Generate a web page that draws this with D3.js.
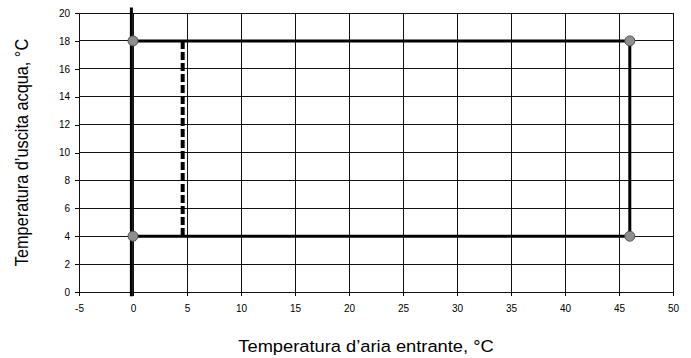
<!DOCTYPE html>
<html>
<head>
<meta charset="utf-8">
<script src="https://cdn.jsdelivr.net/npm/d3@7"></script>
<style>
  html, body { margin: 0; padding: 0; background: #fff; }
  svg { display: block; font-family: "Liberation Sans", Arial, sans-serif; }
</style>
</head>
<body>
<svg id="chart" width="691" height="358"></svg>
<script>
// Operating envelope: inlet air temperature vs. outlet water temperature
const xTicks = [-5, 0, 5, 10, 15, 20, 25, 30, 35, 40, 45, 50];
const yTicks = [0, 2, 4, 6, 8, 10, 12, 14, 16, 18, 20];

// Envelope corner points (air °C, water °C)
const envelopeAir = [0, 46, 46, 0];
const envelopeWater = [18, 18, 4, 4];

// Dashed limit line
const dashedAir = [4.6, 4.6];
const dashedWater = [18, 3.9];

// Heavy vertical reference line near 0 °C
const refAir = [-0.15, -0.15];
const refWater = [20.4, -0.3];

const xTitle = "Temperatura d\u2019aria entrante, \u00B0C";
const yTitle = "Temperatura d\u2019uscita acqua, \u00B0C";

const W = 691, H = 358;
const margin = { left: 79, right: 18, top: 13, bottom: 66 };
const squash = 0.89; // text is slightly condensed vertically
const svg = d3.select("#chart");

const x = d3.scaleLinear().domain([-5, 50]).range([margin.left, W - margin.right]);
const y = d3.scaleLinear().domain([0, 20]).range([H - margin.bottom, margin.top]);

// Gridlines
const grid = svg.append("g").attr("stroke", "#111").attr("stroke-width", 1)
  .attr("shape-rendering", "crispEdges");
grid.selectAll("line.h").data(yTicks).join("line")
  .attr("x1", x(-5)).attr("x2", x(50))
  .attr("y1", d => y(d)).attr("y2", d => y(d));
grid.selectAll("line.v").data(xTicks).join("line")
  .attr("y1", y(0)).attr("y2", y(20))
  .attr("x1", d => x(d)).attr("x2", d => x(d));

// Axes
const fmt = d => String(d);
const xAxis = d3.axisBottom(x).tickValues(xTicks).tickFormat(fmt).tickSize(4).tickSizeOuter(0);
const yAxis = d3.axisLeft(y).tickValues(yTicks).tickFormat(fmt).tickSize(4).tickSizeOuter(0);
const gx = svg.append("g").attr("transform", `translate(0,${y(0)})`).call(xAxis);
const gy = svg.append("g").attr("transform", `translate(${x(-5)},0)`).call(yAxis);
[gx, gy].forEach(g => {
  g.select(".domain").remove();
  g.selectAll("line").attr("stroke", "#000").attr("shape-rendering", "crispEdges");
  g.selectAll("text").attr("font-size", "10px").attr("fill", "#000")
    .attr("font-family", "Liberation Sans, Arial, sans-serif");
});
gx.selectAll("text").attr("dy", "1.25em");
gy.selectAll("text").attr("dx", "-2");

const line = d3.line().x(d => x(d[0])).y(d => y(d[1]));

// Reference vertical line
svg.append("path")
  .datum(d3.zip(refAir, refWater))
  .attr("d", line).attr("fill", "none")
  .attr("stroke", "#000").attr("stroke-width", 3);

// Dashed limit
svg.append("path")
  .datum(d3.zip(dashedAir, dashedWater))
  .attr("d", line).attr("fill", "none")
  .attr("stroke", "#000").attr("stroke-width", 4)
  .attr("stroke-dasharray", "8,3");

// Envelope
svg.append("path")
  .datum(d3.zip(envelopeAir, envelopeWater))
  .attr("d", line).attr("fill", "none")
  .attr("stroke", "#000").attr("stroke-width", 3)
  .attr("stroke-linejoin", "miter");

// Corner markers
svg.append("g").selectAll("circle")
  .data(d3.zip(envelopeAir, envelopeWater)).join("circle")
  .attr("cx", d => x(d[0])).attr("cy", d => y(d[1]))
  .attr("r", 5)
  .attr("fill", "#8e8e8e").attr("stroke", "#555").attr("stroke-width", 1);

// Axis titles
svg.append("text")
  .attr("transform", `translate(366,352) scale(1,${squash})`)
  .attr("text-anchor", "middle").attr("font-size", "18.3px").attr("fill", "#000")
  .text(xTitle);
svg.append("text")
  .attr("transform", `translate(28,${(y(0) + y(20)) / 2}) rotate(-90) scale(${squash},1)`)
  .attr("text-anchor", "middle").attr("font-size", "18.3px").attr("fill", "#000")
  .text(yTitle);
</script>
</body>
</html>
